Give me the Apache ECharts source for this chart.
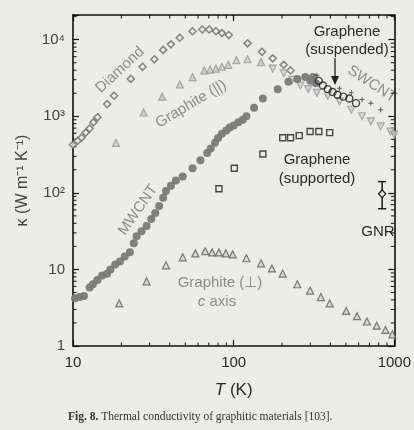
<!DOCTYPE html>
<html>
<head>
<meta charset="utf-8">
<script src="https://cdn.jsdelivr.net/npm/echarts@6/dist/echarts.min.js"></script>
<style>
html,body{margin:0;padding:0;background:#ecece9;}
#chart{width:414px;height:430px;}
</style>
</head>
<body>
<div id="chart"></div>
<script>
// ---- Data ----
const diamondT = [10.0, 10.7, 11.3, 12.0, 12.7, 13.4, 14.2, 16.3, 18.0, 22.9, 27.1, 32.1, 36.4, 40.7, 46.2, 55.5, 63.8, 70.4, 77.6, 84.5, 93.3, 122, 150, 175, 205, 226];
const diamondK = [424, 479, 525, 612, 692, 832, 970, 1443, 1853, 3074, 4430, 5543, 7345, 8690, 10600, 12900, 13600, 13600, 12900, 12200, 11500, 8930, 6940, 5700, 4690, 3960];

const graphiteParT = [18.5, 27.5, 35.9, 46.2, 55.5, 65.6, 71.4, 77.6, 84.5, 92.4, 104, 122, 148];
const graphiteParK = [450, 1119, 1803, 2600, 3252, 3960, 4075, 4190, 4430, 4690, 5400, 5550, 5090];

const mwcntT = [10.3, 11.0, 11.7, 12.7, 13.3, 14.2, 15.2, 16.3, 17.1, 18.3, 19.6, 21.0, 22.6, 23.9, 24.9, 26.7, 28.7, 30.7, 32.5, 34.4, 36.4, 37.9, 40.7, 43.7, 48.2, 55.5, 62.1, 68.4, 72.0, 76.6, 80.0, 84.5, 90.0, 94.5, 100, 107, 114, 120, 134, 152, 188, 219, 249, 279, 300, 312, 325];
const mwcntK = [4.2, 4.35, 4.5, 5.8, 6.4, 7.3, 8.3, 8.8, 10.0, 11.6, 12.7, 14.8, 16.7, 22.0, 27.2, 31.6, 36.8, 45.5, 54.6, 67.5, 86, 106, 124, 145, 163, 209, 267, 331, 380, 450, 520, 593, 650, 713, 760, 832, 900, 1000, 1288, 1706, 2260, 2827, 3076, 3252, 2900, 3252, 2700];

const graphitePerpT = [19.4, 28.7, 37.9, 48.2, 57.8, 66.5, 73.4, 81, 89.3, 98.6, 120, 148, 173, 202, 249, 299, 349, 396, 502, 586, 675, 777, 881, 972];
const graphitePerpK = [3.6, 7.0, 11.3, 14.4, 16.2, 17.3, 16.7, 16.7, 16.2, 15.7, 14.0, 12.0, 10.3, 8.8, 6.4, 5.3, 4.35, 3.6, 2.87, 2.45, 2.09, 1.84, 1.62, 1.42];

const swcntT = [175, 205, 232, 260, 291, 330, 385, 456, 540, 630, 714, 822, 946, 1000];
const swcntK = [4190, 3640, 2990, 2520, 2260, 2020, 1853, 1567, 1217, 1000, 858, 736, 631, 575];

const grapheneSupT = [81, 101, 152, 202, 226, 256, 299, 339, 396];
const grapheneSupK = [113, 209, 321, 525, 525, 558, 631, 631, 612];

const grapheneSusT = [339, 359, 385, 413, 443, 482, 525, 578];
const grapheneSusK = [2900, 2520, 2260, 2076, 1906, 1803, 1706, 1483];

const grapheneSusCrossT = [330, 456, 540, 630, 714, 822];
const grapheneSusCrossK = [3440, 2320, 2020, 1660, 1483, 1217];

const gnrT = [840];
const gnrK = [97];
const gnrLow = [62];
const gnrHigh = [140];

const xTicks = [10, 100, 1000];
const xTickLabels = ['10', '100', '1000'];
const yTicks = [1, 10, 100, 1000, 10000];
const yTickLabels = ['1', '10', '10²', '10³', '10⁴'];
const xMinorTicks = [20, 30, 40, 50, 60, 70, 80, 90, 200, 300, 400, 500, 600, 700, 800, 900];
const yMinorTicks = [2, 3, 4, 5, 6, 7, 8, 9, 20, 30, 40, 50, 60, 70, 80, 90, 200, 300, 400, 500, 600, 700, 800, 900, 2000, 3000, 4000, 5000, 6000, 7000, 8000, 9000, 20000];

const X_MIN = 10, X_MAX = 1000, Y_MIN = 1, Y_MAX = 21000;

// ---- helpers ----
const zip = (a, b) => a.map((v, i) => [v, b[i]]);
const labelOf = (ticks, labels) => v => {
  for (let i = 0; i < ticks.length; i++) if (Math.abs(v - ticks[i]) / ticks[i] < 1e-6) return labels[i];
  return '';
};
const FONT = 'Liberation Sans, Arial, sans-serif';
const GRAY_TXT = '#8c8c8c';
const DARK_TXT = '#2a2a2a';
const deg = d => d * Math.PI / 180;

const chart = echarts.init(document.getElementById('chart'), null, {renderer: 'canvas'});

const baseX = {
  type: 'log', logBase: 10, min: X_MIN, max: X_MAX,
  axisLine: {show: true, lineStyle: {color: '#111', width: 1.6}},
  axisTick: {show: true, inside: true, length: 6, lineStyle: {color: '#111', width: 1.2}},
  splitLine: {show: false}
};
const baseY = {
  type: 'log', logBase: 10, min: Y_MIN, max: Y_MAX,
  axisLine: {show: true, lineStyle: {color: '#111', width: 1.6}},
  axisTick: {show: true, inside: true, length: 6, lineStyle: {color: '#111', width: 1.2}},
  splitLine: {show: false}
};

const option = {
  backgroundColor: '#ecece9',
  animation: false,
  grid: {left: 73, right: 13, top: 15, bottom: 84, containLabel: false},
  xAxis: [
    Object.assign({}, baseX, {
      position: 'bottom',
      name: '{i|T} (K)', nameLocation: 'middle', nameGap: 36,
      nameTextStyle: {fontFamily: FONT, fontSize: 17, color: DARK_TXT,
        rich: {i: {fontStyle: 'italic', fontFamily: FONT, fontSize: 17, color: DARK_TXT}}},
      axisLabel: {show: true, margin: 9, fontFamily: FONT, fontSize: 15, color: DARK_TXT,
        formatter: labelOf(xTicks, xTickLabels)}
    }),
    Object.assign({}, baseX, {position: 'top', axisLabel: {show: false}})
  ],
  yAxis: [
    Object.assign({}, baseY, {
      position: 'left',
      name: 'κ (W m⁻¹ K⁻¹)', nameLocation: 'middle', nameGap: 40, nameRotate: 90,
      nameTextStyle: {fontFamily: FONT, fontSize: 16, color: '#444'},
      axisLabel: {show: true, margin: 8, fontFamily: FONT, fontSize: 15, color: '#444',
        formatter: labelOf(yTicks, yTickLabels)}
    }),
    Object.assign({}, baseY, {position: 'right', axisLabel: {show: false}})
  ],
  series: [
    {
      name: 'Diamond', type: 'scatter', data: zip(diamondT, diamondK),
      symbol: 'diamond', symbolSize: 7,
      itemStyle: {color: '#eeeeec', borderColor: '#6e6e6e', borderWidth: 1.6}
    },
    {
      name: 'Graphite (||)', type: 'scatter', data: zip(graphiteParT, graphiteParK),
      symbol: 'triangle', symbolSize: 7,
      itemStyle: {color: '#c9c9c9', borderColor: '#979797', borderWidth: 1.2}
    },
    {
      name: 'SWCNT', type: 'scatter', data: zip(swcntT, swcntK),
      symbol: 'triangle', symbolRotate: 180, symbolSize: 7,
      itemStyle: {color: '#cfcfcf', borderColor: '#9a9a9a', borderWidth: 1.2}
    },
    {
      name: 'MWCNT', type: 'scatter', data: zip(mwcntT, mwcntK),
      symbol: 'circle', symbolSize: 8,
      itemStyle: {color: '#7a7a7a', opacity: 0.95}
    },
    {
      name: 'Graphite (⊥)', type: 'scatter', data: zip(graphitePerpT, graphitePerpK),
      symbol: 'triangle', symbolSize: 7,
      itemStyle: {color: '#d3d3d1', borderColor: '#5e5e5e', borderWidth: 1.2}
    },
    {
      name: 'Graphene (supported)', type: 'scatter', data: zip(grapheneSupT, grapheneSupK),
      symbol: 'rect', symbolSize: 6,
      itemStyle: {color: 'rgba(0,0,0,0)', borderColor: '#1e1e1e', borderWidth: 1.4}
    },
    {
      name: 'Graphene (suspended)', type: 'scatter', data: zip(grapheneSusT, grapheneSusK),
      symbol: 'circle', symbolSize: 7,
      itemStyle: {color: 'rgba(0,0,0,0)', borderColor: '#1e1e1e', borderWidth: 1.4}
    },
    {
      name: 'Graphene (suspended) +', type: 'scatter', data: zip(grapheneSusCrossT, grapheneSusCrossK),
      symbol: 'path://M4,0 L6,0 L6,4 L10,4 L10,6 L6,6 L6,10 L4,10 L4,6 L0,6 L0,4 L4,4 Z', symbolSize: 5,
      itemStyle: {color: '#3a3a3a'}
    },
    {
      name: 'GNR', type: 'custom', coordinateSystem: 'cartesian2d',
      data: gnrT.map((t, i) => [t, gnrK[i], gnrLow[i], gnrHigh[i]]),
      encode: {x: 0, y: [1, 2, 3]},
      renderItem: (params, api) => {
        const c = api.coord([api.value(0), api.value(1)]);
        const lo = api.coord([api.value(0), api.value(2)]);
        const hi = api.coord([api.value(0), api.value(3)]);
        const st = {stroke: '#1a1a1a', lineWidth: 1.5};
        return {type: 'group', children: [
          {type: 'line', shape: {x1: c[0], y1: hi[1], x2: c[0], y2: lo[1]}, style: st},
          {type: 'line', shape: {x1: c[0] - 4, y1: hi[1], x2: c[0] + 4, y2: hi[1]}, style: st},
          {type: 'line', shape: {x1: c[0] - 4, y1: lo[1], x2: c[0] + 4, y2: lo[1]}, style: st},
          {type: 'polygon', shape: {points: [[c[0], c[1] - 4], [c[0] + 3.5, c[1]], [c[0], c[1] + 4], [c[0] - 3.5, c[1]]]},
            style: {fill: '#eeeeec', stroke: '#1a1a1a', lineWidth: 1.3}}
        ]};
      }
    },
    {
      name: 'xMinor', type: 'custom', coordinateSystem: 'cartesian2d', silent: true, clip: false,
      data: xMinorTicks.map(v => [v, Y_MIN]),
      renderItem: (params, api) => {
        const v = api.value(0);
        const b = api.coord([v, Y_MIN]);
        const t = api.coord([v, Y_MAX]);
        const st = {stroke: '#111', lineWidth: 1};
        return {type: 'group', children: [
          {type: 'line', shape: {x1: b[0], y1: b[1], x2: b[0], y2: b[1] - 3.5}, style: st},
          {type: 'line', shape: {x1: t[0], y1: t[1], x2: t[0], y2: t[1] + 3.5}, style: st}
        ]};
      }
    },
    {
      name: 'yMinor', type: 'custom', coordinateSystem: 'cartesian2d', silent: true, clip: false,
      data: yMinorTicks.map(v => [X_MIN, v]),
      renderItem: (params, api) => {
        const v = api.value(1);
        const l = api.coord([X_MIN, v]);
        const r = api.coord([X_MAX, v]);
        const st = {stroke: '#111', lineWidth: 1};
        return {type: 'group', children: [
          {type: 'line', shape: {x1: l[0], y1: l[1], x2: l[0] + 3.5, y2: l[1]}, style: st},
          {type: 'line', shape: {x1: r[0], y1: r[1], x2: r[0] - 3.5, y2: r[1]}, style: st}
        ]};
      }
    }
  ],
  graphic: [
    {type: 'text', x: 120, y: 70, rotation: deg(43),
      style: {text: 'Diamond', font: '15px ' + FONT, fill: GRAY_TXT, align: 'center', verticalAlign: 'middle'}},
    {type: 'text', x: 191, y: 104, rotation: deg(31),
      style: {text: 'Graphite (||)', font: '15px ' + FONT, fill: GRAY_TXT, align: 'center', verticalAlign: 'middle'}},
    {type: 'text', x: 138, y: 210, rotation: deg(55),
      style: {text: 'MWCNT', font: '15px ' + FONT, fill: GRAY_TXT, align: 'center', verticalAlign: 'middle'}},
    {type: 'text', x: 372, y: 84, rotation: deg(-33),
      style: {text: 'SWCNT', font: '15px ' + FONT, fill: GRAY_TXT, align: 'center', verticalAlign: 'middle'}},
    {type: 'text', x: 347, y: 41,
      style: {text: 'Graphene\n(suspended)', font: '15px ' + FONT, lineHeight: 18, fill: DARK_TXT, align: 'center', verticalAlign: 'middle'}},
    {type: 'line', shape: {x1: 335, y1: 58, x2: 335, y2: 80}, style: {stroke: '#222', lineWidth: 1.3}},
    {type: 'polygon', shape: {points: [[331, 76], [339, 76], [335, 85]]}, style: {fill: '#222'}},
    {type: 'text', x: 317, y: 169,
      style: {text: 'Graphene\n(supported)', font: '15px ' + FONT, lineHeight: 19, fill: DARK_TXT, align: 'center', verticalAlign: 'middle'}},
    {type: 'text', x: 378, y: 232,
      style: {text: 'GNR', font: '15px ' + FONT, fill: DARK_TXT, align: 'center', verticalAlign: 'middle'}},
    {type: 'text', x: 220, y: 283,
      style: {text: 'Graphite (⊥)', font: '15px ' + FONT, fill: GRAY_TXT, align: 'center', verticalAlign: 'middle'}},
    {type: 'text', x: 217, y: 302,
      style: {text: '{i|c} axis', font: '15px ' + FONT, fill: GRAY_TXT, align: 'center', verticalAlign: 'middle',
        rich: {i: {fontStyle: 'italic', fontSize: 15, fontFamily: FONT, fill: GRAY_TXT}}}},
    {type: 'text', x: 68, y: 417,
      style: {text: '{b|Fig. 8.} Thermal conductivity of graphitic materials [103].', font: '11.5px Liberation Serif, Times New Roman, serif',
        fill: '#333', align: 'left', verticalAlign: 'middle',
        rich: {b: {fontWeight: 'bold', fontSize: 11.5, fontFamily: 'Liberation Serif, serif', fill: '#333'}}}}
  ]
};
chart.setOption(option);
</script>
</body>
</html>
